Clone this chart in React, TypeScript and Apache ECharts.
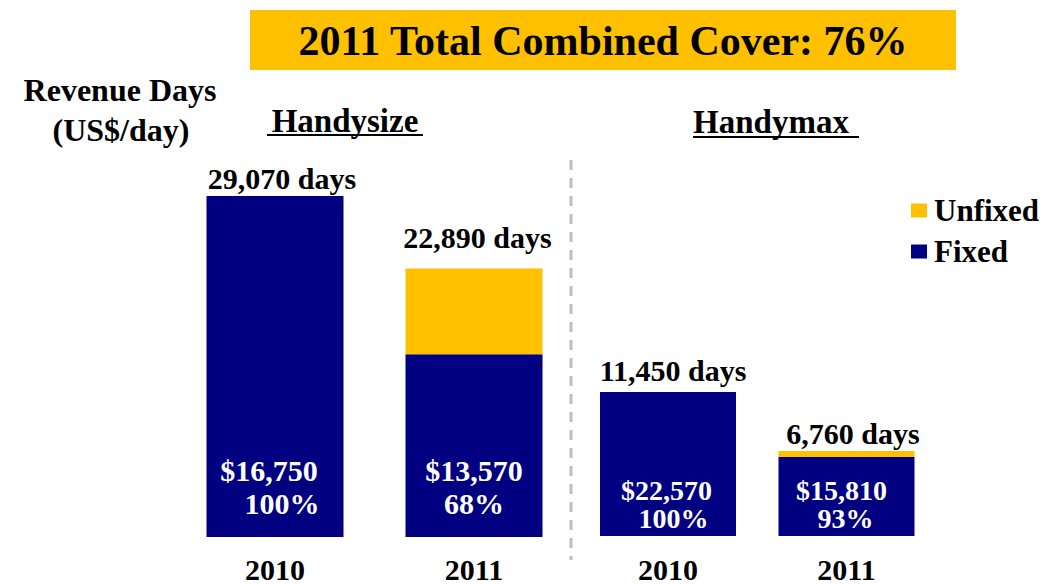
import React, { useEffect, useRef } from "react";
import * as echarts from "echarts";

// ---- data ----
const years = ["2010", "2011"];
const handysizeDays = [29070, 22890];
const handysizeFixedPct = [100, 68];
const handysizeRates = ["$16,750", "$13,570"];
const handymaxDays = [11450, 6760];
const handymaxFixedPct = [100, 93];
const handymaxRates = ["$22,570", "$15,810"];

const seriesNames = ["Unfixed", "Fixed"];
const titleText = "2011 Total Combined Cover: 76%";

const NAVY = "#000080";
const YELLOW = "#FFC000";
const FONT = "Liberation Serif";

// label nudges (style, not data)
const hsTopOffsets = [[7, -2.5], [3.5, -15.5]];
const hmTopOffsets = [[5, -6.5], [6.5, -2.2]];
const hsInnerOffsets = [[-6, 0], [0, 0]];
const hmInnerOffsets = [[-1.5, 0], [-5, 0]];
const hsPctPad = [26, 0];
const hmPctPad = [14, 8];

function fmtDays(v: number) {
  return v.toLocaleString("en-US") + " days";
}

function textEl(text: string, x: number, y: number, size: number) {
  return {
    type: "text",
    x,
    y,
    style: {
      text,
      fill: "#000",
      fontFamily: FONT,
      fontWeight: "bold",
      fontSize: size,
      align: "center",
      verticalAlign: "middle",
    },
  };
}

export default function App() {
  const ref = useRef<HTMLDivElement>(null);
  useEffect(() => {
    if (!ref.current) return;
    const chart = echarts.init(ref.current, undefined, { renderer: "svg" });

    const hsFixed = handysizeDays.map((d, i) => (d * handysizeFixedPct[i]) / 100);
    const hsUnfixed = handysizeDays.map((d, i) => d - hsFixed[i]);
    const hmFixed = handymaxDays.map((d, i) => (d * handymaxFixedPct[i]) / 100);
    const hmUnfixed = handymaxDays.map((d, i) => d - hmFixed[i]);

    const topLabel = (days: number[], offs: number[][], axis: number) => ({
      type: "scatter",
      xAxisIndex: axis,
      yAxisIndex: axis,
      symbolSize: 0,
      itemStyle: { color: "#000" },
      silent: true,
      data: days.map((d, i) => ({
        value: d,
        label: {
          show: true,
          position: "top",
          distance: 0,
          offset: offs[i],
          formatter: fmtDays(d),
          fontFamily: FONT,
          fontWeight: "bold",
          fontSize: 30,
          lineHeight: 30,
          color: "#000",
          opacity: 1,
        },
      })),
    });

    const fixedSeries = (
      vals: number[],
      rates: string[],
      pcts: number[],
      offs: number[][],
      pads: number[],
      axis: number,
      barWidth: number,
      fs: number,
      lh: number,
      dist: number
    ) => ({
      name: "Fixed",
      type: "bar",
      stack: "s" + axis,
      xAxisIndex: axis,
      yAxisIndex: axis,
      barWidth,
      itemStyle: { color: NAVY },
      data: vals.map((v, i) => ({
        value: v,
        label: {
          show: true,
          position: "insideBottom",
          distance: dist,
          offset: offs[i],
          formatter: "{r|" + rates[i] + "}\n{p|" + pcts[i] + "%}",
          rich: {
            r: { color: "#fff", fontFamily: FONT, fontWeight: "bold", fontSize: fs, lineHeight: lh },
            p: {
              color: "#fff",
              fontFamily: FONT,
              fontWeight: "bold",
              fontSize: fs,
              lineHeight: lh,
              padding: [0, 0, 0, pads[i]],
            },
          },
          align: "center",
        },
      })),
    });

    const unfixedSeries = (vals: number[], axis: number, barWidth: number) => ({
      name: "Unfixed",
      type: "bar",
      stack: "s" + axis,
      xAxisIndex: axis,
      yAxisIndex: axis,
      barWidth,
      itemStyle: { color: YELLOW },
      data: vals,
    });

    const xAxisBase = {
      type: "category",
      data: years,
      axisLine: { show: false },
      axisTick: { show: false },
      axisLabel: {
        color: "#000",
        fontFamily: FONT,
        fontWeight: "bold",
        fontSize: 30,
        lineHeight: 28,
      },
    };

    chart.setOption({
      animation: false,
      grid: [
        { left: 175.5, width: 398, top: 185, bottom: 44 },
        { left: 578.75, width: 357, top: 385, bottom: 47 },
      ],
      xAxis: [
        { ...xAxisBase, gridIndex: 0, axisLabel: { ...xAxisBase.axisLabel, margin: 18 } },
        { ...xAxisBase, gridIndex: 1, axisLabel: { ...xAxisBase.axisLabel, margin: 19 } },
      ],
      yAxis: [
        { type: "value", gridIndex: 0, min: 0, max: 30000, show: false, splitLine: { show: false } },
        { type: "value", gridIndex: 1, min: 0, max: 12000, show: false, splitLine: { show: false } },
      ],
      legend: {
        data: seriesNames,
        orient: "vertical",
        left: 906,
        top: 190,
        itemWidth: 16,
        itemHeight: 14,
        itemGap: 10,
        icon: "rect",
        textStyle: {
          color: "#000",
          fontFamily: FONT,
          fontWeight: "bold",
          fontSize: 31,
          padding: [4, 0, 0, 2],
        },
      },
      series: [
        fixedSeries(hsFixed, handysizeRates, handysizeFixedPct, hsInnerOffsets, hsPctPad, 0, 137, 30, 33, 17.5),
        unfixedSeries(hsUnfixed, 0, 137),
        topLabel(handysizeDays, hsTopOffsets, 0),
        fixedSeries(hmFixed, handymaxRates, handymaxFixedPct, hmInnerOffsets, hmPctPad, 1, 136, 28, 28, 4),
        unfixedSeries(hmUnfixed, 1, 136),
        topLabel(handymaxDays, hmTopOffsets, 1),
      ],
      graphic: [
        { type: "rect", shape: { x: 250, y: 10, width: 706, height: 60 }, style: { fill: YELLOW } },
        textEl(titleText, 603, 41, 42),
        textEl("Revenue Days", 120, 90, 32),
        textEl("(US$/day)", 121, 130, 32),
        textEl("Handysize", 345, 121, 33),
        { type: "line", shape: { x1: 267, y1: 135, x2: 423, y2: 135 }, style: { stroke: "#000", lineWidth: 2 } },
        textEl("Handymax", 771, 122, 33),
        { type: "line", shape: { x1: 693, y1: 137, x2: 859, y2: 137 }, style: { stroke: "#000", lineWidth: 2 } },
        {
          type: "line",
          shape: { x1: 571, y1: 160, x2: 571, y2: 560 },
          style: { stroke: "#BFBFBF", lineWidth: 3, lineDash: [10, 8] },
        },
      ],
    });
    return () => chart.dispose();
  }, []);
  return (
    <div
      ref={ref}
      style={{ position: "fixed", left: 0, top: 0, width: 1050, height: 584, background: "#fff" }}
    />
  );
}
